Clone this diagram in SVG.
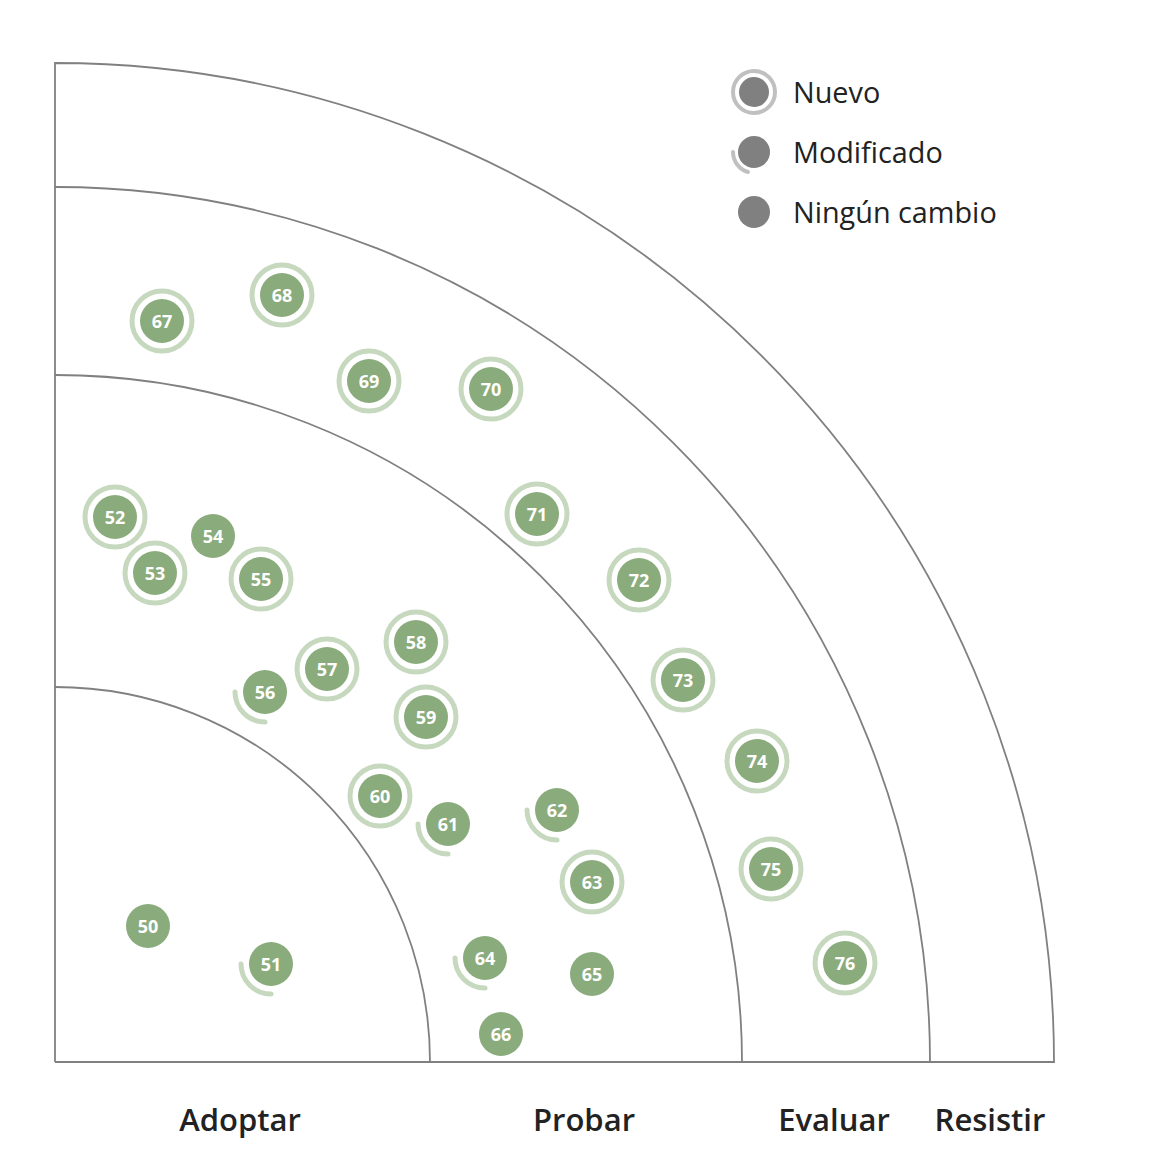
<svg xmlns="http://www.w3.org/2000/svg" width="1150" height="1170" viewBox="0 0 1150 1170">
<style>
.ring{fill:none;stroke:#808080;stroke-width:1.8}
.dot{fill:#8aab7c}
.new{fill:none;stroke:#c6d9bf;stroke-width:5}
.mod{fill:none;stroke:#c6d9bf;stroke-width:5;stroke-linecap:round}
.num{font-family:"Open Sans","Liberation Sans",sans-serif;font-weight:700;font-size:18px;fill:#fff;text-anchor:middle}
.lbl{font-family:"Open Sans","Liberation Sans",sans-serif;font-weight:600;font-size:31px;fill:#222;text-anchor:middle}
.leg{font-family:"Open Sans","Liberation Sans",sans-serif;font-size:28.8px;fill:#222}
.ldot{fill:#808080}
.lnew{fill:none;stroke:#c0c0c0;stroke-width:4}
.lmod{fill:none;stroke:#c0c0c0;stroke-width:4;stroke-linecap:round}
</style>
<rect width="1150" height="1170" fill="#fff"/>
<g id="rings">
<path class="ring" d="M55,1062 V63 A999,999 0 0 1 1054,1062 H55"/>
<path class="ring" d="M55,187 A875,875 0 0 1 930,1062"/>
<path class="ring" d="M55,375 A687,687 0 0 1 742,1062"/>
<path class="ring" d="M55,687 A375,375 0 0 1 430,1062"/>
</g>
<g id="labels">
<text class="lbl" x="240" y="1131">Adoptar</text>
<text class="lbl" x="584" y="1131">Probar</text>
<text class="lbl" x="834" y="1131">Evaluar</text>
<text class="lbl" x="990" y="1131">Resistir</text>
</g>
<g id="legend">
<g id="leg-new"><circle class="lnew" cx="754" cy="92" r="21"/><circle class="ldot" cx="754" cy="92" r="15"/><text class="leg" x="793" y="103">Nuevo</text></g>
<g id="leg-mod"><path class="lmod" d="M733,152 A21,21 0 0 0 748,172"/><circle class="ldot" cx="754" cy="152" r="16"/><text class="leg" x="793" y="163">Modificado</text></g>
<g id="leg-none"><circle class="ldot" cx="754" cy="212" r="16"/><text class="leg" x="793" y="223">Ningún cambio</text></g>
</g>
<g id="blips">
<g id="b50"><circle class="dot" cx="148" cy="926" r="22"/><text class="num" x="148" y="932.5">50</text></g>
<g id="b51"><path class="mod" d="M241,964 A30,30 0 0 0 271,994"/><circle class="dot" cx="271" cy="964" r="22"/><text class="num" x="271" y="970.5">51</text></g>
<g id="b52"><circle class="new" cx="115" cy="517" r="30"/><circle class="dot" cx="115" cy="517" r="22"/><text class="num" x="115" y="523.5">52</text></g>
<g id="b53"><circle class="new" cx="155" cy="573" r="30"/><circle class="dot" cx="155" cy="573" r="22"/><text class="num" x="155" y="579.5">53</text></g>
<g id="b54"><circle class="dot" cx="213" cy="536" r="22"/><text class="num" x="213" y="542.5">54</text></g>
<g id="b55"><circle class="new" cx="261" cy="579" r="30"/><circle class="dot" cx="261" cy="579" r="22"/><text class="num" x="261" y="585.5">55</text></g>
<g id="b56"><path class="mod" d="M235,692 A30,30 0 0 0 265,722"/><circle class="dot" cx="265" cy="692" r="22"/><text class="num" x="265" y="698.5">56</text></g>
<g id="b57"><circle class="new" cx="327" cy="669" r="30"/><circle class="dot" cx="327" cy="669" r="22"/><text class="num" x="327" y="675.5">57</text></g>
<g id="b58"><circle class="new" cx="416" cy="642" r="30"/><circle class="dot" cx="416" cy="642" r="22"/><text class="num" x="416" y="648.5">58</text></g>
<g id="b59"><circle class="new" cx="426" cy="717" r="30"/><circle class="dot" cx="426" cy="717" r="22"/><text class="num" x="426" y="723.5">59</text></g>
<g id="b60"><circle class="new" cx="380" cy="796" r="30"/><circle class="dot" cx="380" cy="796" r="22"/><text class="num" x="380" y="802.5">60</text></g>
<g id="b61"><path class="mod" d="M418,824 A30,30 0 0 0 448,854"/><circle class="dot" cx="448" cy="824" r="22"/><text class="num" x="448" y="830.5">61</text></g>
<g id="b62"><path class="mod" d="M527,810 A30,30 0 0 0 557,840"/><circle class="dot" cx="557" cy="810" r="22"/><text class="num" x="557" y="816.5">62</text></g>
<g id="b63"><circle class="new" cx="592" cy="882" r="30"/><circle class="dot" cx="592" cy="882" r="22"/><text class="num" x="592" y="888.5">63</text></g>
<g id="b64"><path class="mod" d="M455,958 A30,30 0 0 0 485,988"/><circle class="dot" cx="485" cy="958" r="22"/><text class="num" x="485" y="964.5">64</text></g>
<g id="b65"><circle class="dot" cx="592" cy="974" r="22"/><text class="num" x="592" y="980.5">65</text></g>
<g id="b66"><circle class="dot" cx="501" cy="1034" r="22"/><text class="num" x="501" y="1040.5">66</text></g>
<g id="b67"><circle class="new" cx="162" cy="321" r="30"/><circle class="dot" cx="162" cy="321" r="22"/><text class="num" x="162" y="327.5">67</text></g>
<g id="b68"><circle class="new" cx="282" cy="295" r="30"/><circle class="dot" cx="282" cy="295" r="22"/><text class="num" x="282" y="301.5">68</text></g>
<g id="b69"><circle class="new" cx="369" cy="381" r="30"/><circle class="dot" cx="369" cy="381" r="22"/><text class="num" x="369" y="387.5">69</text></g>
<g id="b70"><circle class="new" cx="491" cy="389" r="30"/><circle class="dot" cx="491" cy="389" r="22"/><text class="num" x="491" y="395.5">70</text></g>
<g id="b71"><circle class="new" cx="537" cy="514" r="30"/><circle class="dot" cx="537" cy="514" r="22"/><text class="num" x="537" y="520.5">71</text></g>
<g id="b72"><circle class="new" cx="639" cy="580" r="30"/><circle class="dot" cx="639" cy="580" r="22"/><text class="num" x="639" y="586.5">72</text></g>
<g id="b73"><circle class="new" cx="683" cy="680" r="30"/><circle class="dot" cx="683" cy="680" r="22"/><text class="num" x="683" y="686.5">73</text></g>
<g id="b74"><circle class="new" cx="757" cy="761" r="30"/><circle class="dot" cx="757" cy="761" r="22"/><text class="num" x="757" y="767.5">74</text></g>
<g id="b75"><circle class="new" cx="771" cy="869" r="30"/><circle class="dot" cx="771" cy="869" r="22"/><text class="num" x="771" y="875.5">75</text></g>
<g id="b76"><circle class="new" cx="845" cy="963" r="30"/><circle class="dot" cx="845" cy="963" r="22"/><text class="num" x="845" y="969.5">76</text></g>
</g>
</svg>
